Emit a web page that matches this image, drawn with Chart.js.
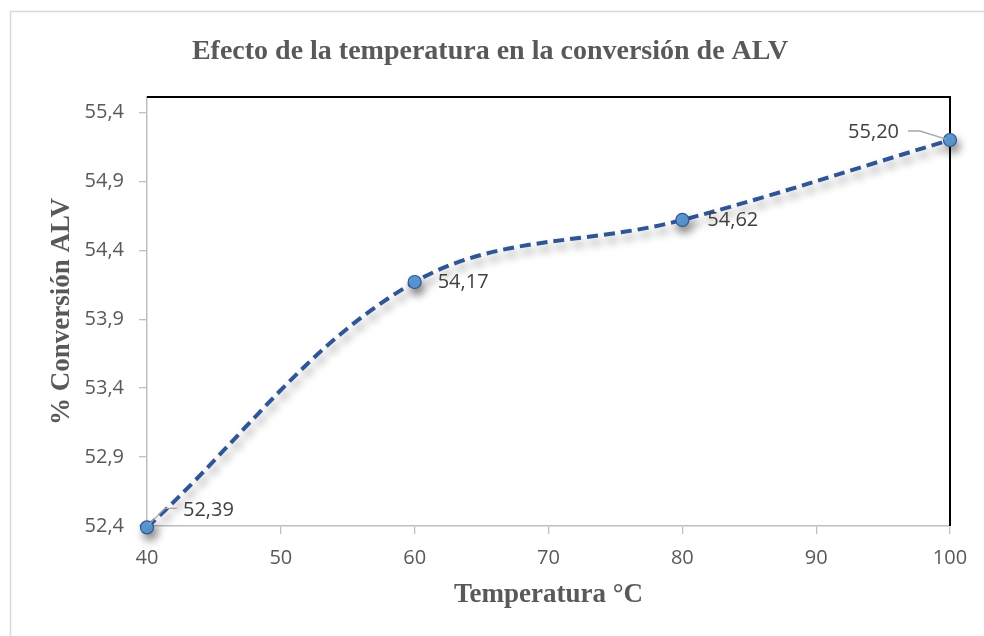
<!DOCTYPE html>
<html>
<head>
<meta charset="utf-8">
<script src="https://cdn.jsdelivr.net/npm/chart.js@4/dist/chart.umd.min.js"></script>
<style>
  html, body { margin: 0; padding: 0; background: #ffffff; }
  #wrap { width: 984px; height: 636px; position: relative; }
  canvas { display: block; }
</style>
</head>
<body>
<div id="wrap"><canvas id="chart" width="984" height="636"></canvas></div>
<script>
// Conversion of ALV as a function of reaction temperature
const temperatures = [40, 60, 80, 100];
const conversion = [52.39, 54.17, 54.62, 55.20];
const xTicks = [40, 50, 60, 70, 80, 90, 100];
const yTicks = [52.4, 52.9, 53.4, 53.9, 54.4, 54.9, 55.4];
const chartTitle = 'Efecto de la temperatura en la conversión de ALV';
const xTitle = 'Temperatura °C';
const yTitle = '% Conversión ALV';

const serifFamily = '"Liberation Serif", "Times New Roman", serif';
const axisTitleFont = { family: serifFamily, size: 27, weight: 'bold' };
const sansFamily = '"Open Sans", "Noto Sans", sans-serif';
const comma = (v, d) => v.toFixed(d).replace('.', ',');

// where each value label sits relative to its marker, plus optional leader line
const labelPlacement = [
  { dx: 36, dy: -17, align: 'left', leader: [[2, -3], [18, -19], [30, -19]] },
  { dx: 23, dy: 0, align: 'left', leader: null },
  { dx: 25, dy: 0, align: 'left', leader: null },
  { dx: -51, dy: -8, align: 'right', leader: [[-4, -1], [-30, -9], [-42, -9]] }
];

const frame = {
  id: 'frame',
  beforeDraw(chart) {
    const ctx = chart.ctx;
    ctx.save();
    ctx.fillStyle = '#ffffff';
    ctx.fillRect(0, 0, chart.width, chart.height);
    ctx.strokeStyle = '#d9d9d9';
    ctx.lineWidth = 1.5;
    ctx.beginPath();
    ctx.moveTo(10.5, chart.height);
    ctx.lineTo(10.5, 11.5);
    ctx.lineTo(chart.width, 11.5);
    ctx.stroke();
    ctx.restore();
  },
  beforeDatasetsDraw(chart) {
    const { ctx, chartArea: a } = chart;
    ctx.save();
    ctx.strokeStyle = '#000000';
    ctx.lineWidth = 2;
    ctx.beginPath();
    ctx.moveTo(a.left, a.top);
    ctx.lineTo(a.right, a.top);
    ctx.lineTo(a.right, a.bottom);
    ctx.stroke();
    ctx.restore();
  },
  afterDraw(chart) {
    const ctx = chart.ctx;
    ctx.save();
    ctx.fillStyle = '#595959';
    ctx.font = `bold 28px ${serifFamily}`;
    ctx.textAlign = 'center';
    ctx.textBaseline = 'middle';
    ctx.fillText(chartTitle, 490, 52);
    ctx.restore();
  }
};

const shadow = {
  id: 'lineShadow',
  beforeDatasetDraw(chart) {
    const ctx = chart.ctx;
    ctx.save();
    ctx.shadowColor = 'rgba(0, 0, 0, 0.42)';
    ctx.shadowBlur = 8;
    ctx.shadowOffsetX = 3;
    ctx.shadowOffsetY = 6;
  },
  afterDatasetDraw(chart) {
    chart.ctx.restore();
  }
};

const valueLabels = {
  id: 'valueLabels',
  afterDatasetsDraw(chart) {
    const ctx = chart.ctx;
    const meta = chart.getDatasetMeta(0);
    ctx.save();
    meta.data.forEach((pt, i) => {
      const p = labelPlacement[i];
      if (p.leader) {
        ctx.strokeStyle = '#a6a6a6';
        ctx.lineWidth = 1.3;
        ctx.beginPath();
        p.leader.forEach(([lx, ly], k) => {
          if (k === 0) ctx.moveTo(pt.x + lx, pt.y + ly);
          else ctx.lineTo(pt.x + lx, pt.y + ly);
        });
        ctx.stroke();
      }
      ctx.fillStyle = '#404040';
      ctx.font = `20px ${sansFamily}`;
      ctx.textAlign = p.align;
      ctx.textBaseline = 'middle';
      ctx.fillText(comma(conversion[i], 2), pt.x + p.dx, pt.y + p.dy);
    });
    ctx.restore();
  }
};

new Chart(document.getElementById('chart'), {
  type: 'line',
  data: {
    datasets: [{
      data: temperatures.map((t, i) => ({ x: t, y: conversion[i] })),
      borderColor: '#2f5597',
      borderWidth: 4,
      borderDash: [11, 6],
      tension: 0.36,
      fill: false,
      clip: false,
      pointRadius: 6.5,
      pointHoverRadius: 6.5,
      pointBackgroundColor: '#5b9bd5',
      pointBorderColor: '#2f5597',
      pointBorderWidth: 1.2
    }]
  },
  options: {
    responsive: false,
    animation: false,
    events: [],
    layout: { padding: { top: 97, right: 34, left: 0, bottom: 0 } },
    plugins: { legend: { display: false }, tooltip: { enabled: false }, title: { display: false } },
    scales: {
      x: {
        type: 'linear',
        min: 40,
        max: 100,
        afterBuildTicks: s => { s.ticks = xTicks.map(v => ({ value: v })); },
        afterFit: s => { s.height = 110; },
        grid: { display: true, drawOnChartArea: false, drawTicks: true, tickLength: 8, color: '#bfbfbf', lineWidth: 1.3 },
        border: { display: true, color: '#bfbfbf', width: 1.5 },
        ticks: {
          autoSkip: false, maxRotation: 0, padding: 12, color: '#595959',
          font: { family: sansFamily, size: 20 },
          callback: v => String(v)
        },
        title: { display: true, text: xTitle, color: '#595959', font: axisTitleFont, padding: { top: 0, bottom: 25 } }
      },
      y: {
        type: 'linear',
        min: 52.4,
        max: 55.512,
        afterBuildTicks: s => { s.ticks = yTicks.map(v => ({ value: v })); },
        afterFit: s => { s.width = 147; },
        grid: { display: true, drawOnChartArea: false, drawTicks: true, tickLength: 8, color: '#bfbfbf', lineWidth: 1.3 },
        border: { display: true, color: '#bfbfbf', width: 1.5 },
        ticks: {
          padding: 15, color: '#595959',
          font: { family: sansFamily, size: 20 },
          callback: v => comma(v, 1)
        },
        title: { display: true, text: yTitle, color: '#595959', font: axisTitleFont, padding: { top: 46, bottom: 0 } }
      }
    }
  },
  plugins: [frame, shadow, valueLabels]
});
</script>
</body>
</html>
